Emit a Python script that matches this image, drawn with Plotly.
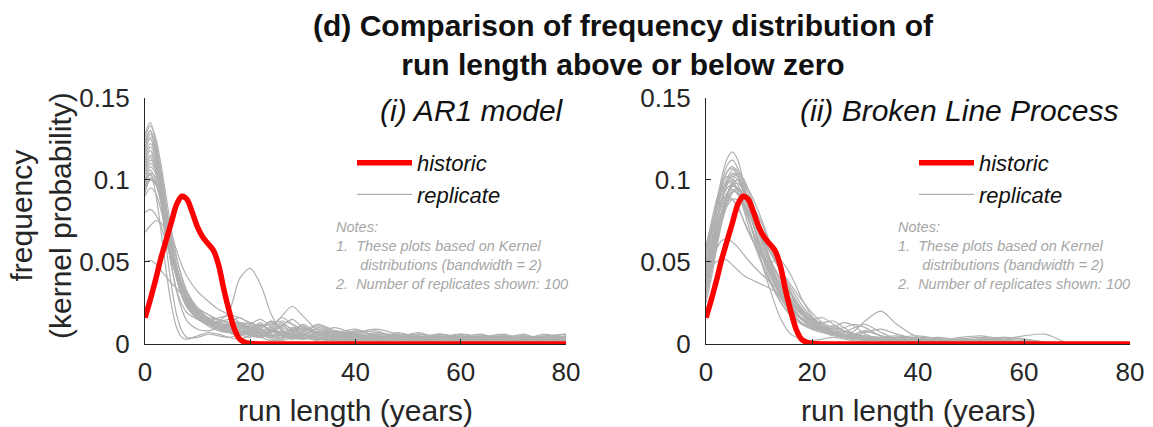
import plotly.graph_objects as go

# ---------------- data ----------------
run_length = [0, 1, 2, 3, 4, 5, 6, 7, 8, 10, 12, 14, 16, 18, 20, 22, 24, 26, 28, 30,
              33, 36, 40, 44, 48, 52, 56, 60, 64, 68, 72, 76, 80]

hist_x = [0, 1, 2, 3, 4, 5, 6, 7, 8, 9, 10, 11, 12, 13, 14, 15, 16, 17, 18, 19, 20,
          22, 25, 30, 40, 50, 60, 70, 80]
hist_y = [0.016, 0.027, 0.039, 0.052, 0.063, 0.074, 0.085, 0.090, 0.088, 0.080, 0.071,
          0.065, 0.061, 0.057, 0.048, 0.033, 0.020, 0.009, 0.003, 0.001, 0.0003,
          0, 0, 0, 0, 0, 0, 0, 0]

ar1_replicates = [
    [0.128,0.135,0.124,0.106,0.085,0.064,0.048,0.036,0.028,0.019,0.013,0.010,0.008,0.011,0.006,0.004,0.009,0.005,0.010,0.004,0.006,0.002,0.007,0.003,0.005,0.002,0.006,0.002,0.004,0.005,0.002,0.004,0.003],
    [0.120,0.128,0.120,0.104,0.084,0.062,0.045,0.033,0.025,0.017,0.014,0.011,0.007,0.005,0.009,0.013,0.006,0.004,0.008,0.011,0.004,0.003,0.006,0.008,0.003,0.005,0.002,0.004,0.006,0.002,0.005,0.003,0.004],
    [0.115,0.122,0.116,0.100,0.080,0.060,0.044,0.034,0.027,0.020,0.016,0.011,0.009,0.006,0.004,0.009,0.014,0.008,0.004,0.003,0.008,0.005,0.003,0.002,0.006,0.004,0.002,0.005,0.002,0.003,0.006,0.002,0.005],
    [0.110,0.118,0.112,0.097,0.078,0.058,0.043,0.033,0.026,0.021,0.018,0.014,0.010,0.007,0.005,0.004,0.008,0.006,0.003,0.005,0.010,0.006,0.003,0.007,0.004,0.002,0.006,0.004,0.002,0.005,0.003,0.004,0.002],
    [0.105,0.112,0.108,0.095,0.077,0.058,0.042,0.031,0.023,0.015,0.012,0.013,0.011,0.008,0.006,0.005,0.009,0.013,0.008,0.004,0.003,0.007,0.005,0.003,0.004,0.007,0.003,0.002,0.004,0.006,0.003,0.002,0.004],
    [0.100,0.108,0.104,0.092,0.075,0.057,0.043,0.033,0.026,0.018,0.013,0.009,0.008,0.012,0.010,0.006,0.004,0.007,0.005,0.003,0.004,0.002,0.008,0.005,0.003,0.002,0.002,0.006,0.004,0.002,0.002,0.004,0.006],
    [0.096,0.104,0.102,0.092,0.077,0.060,0.046,0.036,0.028,0.019,0.014,0.012,0.010,0.007,0.006,0.011,0.008,0.005,0.009,0.006,0.003,0.004,0.005,0.003,0.007,0.004,0.002,0.004,0.002,0.004,0.003,0.006,0.002],
    [0.092,0.100,0.098,0.088,0.073,0.056,0.042,0.032,0.025,0.018,0.016,0.015,0.012,0.009,0.007,0.005,0.004,0.003,0.007,0.012,0.006,0.004,0.003,0.006,0.005,0.003,0.005,0.002,0.003,0.002,0.005,0.003,0.004],
    [0.090,0.095,0.092,0.082,0.068,0.053,0.041,0.032,0.026,0.019,0.014,0.010,0.008,0.006,0.012,0.015,0.010,0.006,0.004,0.005,0.004,0.003,0.002,0.004,0.002,0.006,0.003,0.004,0.002,0.005,0.003,0.002,0.005],
    [0.080,0.082,0.079,0.072,0.062,0.051,0.041,0.033,0.027,0.020,0.015,0.012,0.009,0.007,0.006,0.010,0.014,0.009,0.005,0.004,0.003,0.006,0.009,0.004,0.003,0.002,0.004,0.006,0.003,0.002,0.004,0.002,0.003],
    [0.068,0.072,0.075,0.074,0.068,0.058,0.047,0.037,0.029,0.020,0.015,0.011,0.010,0.008,0.006,0.004,0.007,0.011,0.007,0.004,0.003,0.006,0.003,0.002,0.004,0.003,0.002,0.004,0.005,0.003,0.002,0.004,0.002],
    [0.050,0.051,0.049,0.045,0.041,0.037,0.034,0.030,0.027,0.022,0.018,0.015,0.013,0.011,0.010,0.008,0.007,0.011,0.015,0.010,0.006,0.005,0.008,0.005,0.004,0.003,0.005,0.003,0.004,0.003,0.003,0.005,0.006],
    [0.112,0.118,0.108,0.090,0.068,0.048,0.033,0.024,0.019,0.015,0.013,0.014,0.020,0.040,0.046,0.036,0.018,0.008,0.005,0.004,0.003,0.002,0.003,0.002,0.001,0.002,0.001,0.001,0.002,0.001,0.001,0.002,0.001],
    [0.118,0.126,0.112,0.088,0.060,0.036,0.018,0.008,0.004,0.004,0.006,0.005,0.004,0.006,0.008,0.006,0.003,0.002,0.004,0.006,0.003,0.002,0.001,0.003,0.002,0.001,0.001,0.002,0.001,0.001,0.002,0.001,0.001],
    [0.098,0.106,0.100,0.088,0.072,0.056,0.042,0.032,0.024,0.016,0.012,0.010,0.011,0.013,0.012,0.009,0.010,0.017,0.023,0.017,0.008,0.005,0.007,0.009,0.006,0.004,0.003,0.004,0.003,0.002,0.003,0.005,0.004],
    [0.106,0.114,0.106,0.089,0.068,0.048,0.032,0.021,0.014,0.009,0.008,0.010,0.012,0.010,0.007,0.005,0.008,0.012,0.009,0.005,0.006,0.004,0.002,0.005,0.004,0.002,0.003,0.002,0.001,0.003,0.002,0.004,0.003],
    [0.094,0.100,0.097,0.090,0.080,0.068,0.057,0.048,0.041,0.032,0.026,0.021,0.018,0.016,0.013,0.011,0.012,0.014,0.012,0.009,0.007,0.008,0.006,0.004,0.005,0.003,0.002,0.003,0.002,0.002,0.003,0.002,0.002],
    [0.124,0.130,0.118,0.098,0.076,0.056,0.040,0.030,0.023,0.016,0.012,0.013,0.015,0.012,0.009,0.011,0.013,0.010,0.008,0.010,0.007,0.004,0.005,0.007,0.005,0.003,0.004,0.002,0.003,0.004,0.003,0.002,0.003],
    [0.100,0.104,0.092,0.070,0.045,0.024,0.010,0.004,0.003,0.005,0.007,0.006,0.004,0.003,0.005,0.004,0.002,0.003,0.005,0.004,0.002,0.001,0.002,0.003,0.002,0.001,0.002,0.001,0.002,0.001,0.001,0.002,0.001],
    [0.126,0.133,0.126,0.110,0.090,0.070,0.053,0.040,0.031,0.021,0.015,0.012,0.009,0.007,0.009,0.012,0.008,0.005,0.003,0.006,0.009,0.005,0.003,0.002,0.005,0.003,0.002,0.003,0.005,0.003,0.002,0.003,0.004],
    [0.122,0.130,0.122,0.105,0.083,0.061,0.044,0.032,0.024,0.016,0.012,0.009,0.010,0.013,0.010,0.006,0.005,0.008,0.006,0.003,0.005,0.008,0.005,0.002,0.003,0.004,0.006,0.003,0.002,0.002,0.004,0.003,0.002],
    [0.117,0.125,0.118,0.101,0.079,0.057,0.040,0.029,0.022,0.016,0.014,0.016,0.017,0.013,0.009,0.006,0.004,0.006,0.004,0.007,0.011,0.007,0.004,0.003,0.004,0.006,0.004,0.002,0.003,0.005,0.003,0.002,0.003],
    [0.113,0.120,0.114,0.098,0.079,0.060,0.045,0.034,0.027,0.019,0.013,0.009,0.007,0.006,0.008,0.007,0.011,0.016,0.012,0.006,0.004,0.003,0.004,0.006,0.004,0.002,0.003,0.004,0.002,0.004,0.002,0.003,0.005],
    [0.108,0.115,0.110,0.096,0.078,0.059,0.044,0.033,0.025,0.017,0.012,0.010,0.013,0.016,0.012,0.007,0.006,0.004,0.007,0.009,0.005,0.003,0.004,0.002,0.003,0.005,0.003,0.005,0.003,0.002,0.004,0.003,0.002],
    [0.103,0.110,0.106,0.094,0.078,0.061,0.047,0.037,0.030,0.021,0.015,0.011,0.009,0.010,0.013,0.009,0.005,0.004,0.006,0.005,0.007,0.010,0.006,0.003,0.002,0.004,0.003,0.002,0.005,0.004,0.002,0.004,0.003],
    [0.098,0.103,0.098,0.086,0.070,0.054,0.041,0.031,0.024,0.016,0.011,0.008,0.007,0.009,0.011,0.008,0.005,0.006,0.010,0.008,0.004,0.003,0.005,0.004,0.006,0.003,0.005,0.003,0.002,0.004,0.005,0.003,0.002],
    [0.095,0.101,0.099,0.091,0.079,0.065,0.052,0.041,0.032,0.022,0.016,0.013,0.011,0.010,0.008,0.006,0.009,0.007,0.005,0.008,0.012,0.008,0.004,0.005,0.003,0.004,0.002,0.005,0.003,0.004,0.002,0.003,0.004],
]

blp_replicates = [
    [0.050,0.068,0.086,0.102,0.113,0.117,0.112,0.100,0.086,0.060,0.040,0.026,0.017,0.012,0.009,0.007,0.006,0.005,0.004,0.003,0.002,0.002,0.001,0.001,0.001,0.000,0.000,0.000,0.000,0.000,0.000,0.000,0.000],
    [0.045,0.062,0.080,0.095,0.105,0.108,0.104,0.095,0.084,0.062,0.044,0.030,0.020,0.013,0.010,0.008,0.006,0.004,0.003,0.004,0.003,0.002,0.002,0.001,0.001,0.001,0.000,0.000,0.000,0.000,0.000,0.000,0.000],
    [0.040,0.056,0.073,0.088,0.098,0.102,0.100,0.094,0.085,0.066,0.048,0.034,0.024,0.016,0.011,0.008,0.006,0.005,0.004,0.003,0.002,0.003,0.002,0.001,0.002,0.001,0.000,0.000,0.000,0.000,0.000,0.000,0.000],
    [0.055,0.070,0.084,0.094,0.099,0.098,0.093,0.085,0.076,0.060,0.047,0.036,0.027,0.019,0.013,0.009,0.007,0.006,0.005,0.004,0.003,0.002,0.001,0.002,0.001,0.001,0.001,0.000,0.000,0.000,0.000,0.000,0.000],
    [0.035,0.050,0.066,0.080,0.091,0.097,0.098,0.094,0.087,0.070,0.053,0.038,0.026,0.018,0.012,0.009,0.007,0.008,0.006,0.004,0.002,0.001,0.002,0.003,0.002,0.001,0.002,0.001,0.000,0.000,0.000,0.000,0.000],
    [0.030,0.045,0.060,0.074,0.085,0.092,0.094,0.092,0.087,0.074,0.059,0.045,0.032,0.022,0.015,0.010,0.007,0.005,0.004,0.003,0.002,0.001,0.001,0.002,0.001,0.001,0.000,0.000,0.000,0.000,0.000,0.000,0.000],
    [0.060,0.072,0.082,0.088,0.090,0.088,0.083,0.076,0.069,0.056,0.045,0.036,0.028,0.021,0.016,0.012,0.009,0.010,0.012,0.010,0.005,0.003,0.002,0.001,0.002,0.003,0.002,0.001,0.000,0.000,0.000,0.000,0.000],
    [0.045,0.048,0.050,0.052,0.051,0.048,0.045,0.042,0.040,0.037,0.034,0.030,0.025,0.019,0.014,0.011,0.009,0.007,0.006,0.005,0.004,0.003,0.002,0.002,0.001,0.002,0.001,0.000,0.000,0.000,0.000,0.000,0.000],
    [0.040,0.055,0.070,0.081,0.087,0.088,0.084,0.076,0.068,0.056,0.050,0.051,0.042,0.028,0.017,0.011,0.008,0.006,0.004,0.003,0.002,0.001,0.002,0.001,0.000,0.000,0.000,0.000,0.000,0.000,0.000,0.000,0.000],
    [0.038,0.052,0.067,0.080,0.089,0.093,0.092,0.087,0.080,0.063,0.046,0.032,0.022,0.015,0.010,0.008,0.006,0.005,0.008,0.014,0.020,0.012,0.004,0.002,0.001,0.001,0.000,0.000,0.000,0.000,0.000,0.000,0.000],
    [0.042,0.058,0.074,0.088,0.097,0.100,0.097,0.088,0.077,0.055,0.038,0.026,0.018,0.013,0.010,0.008,0.006,0.004,0.003,0.002,0.003,0.004,0.003,0.002,0.004,0.005,0.003,0.005,0.006,0.001,0.000,0.000,0.000],
    [0.028,0.044,0.062,0.078,0.090,0.096,0.095,0.088,0.078,0.055,0.034,0.016,0.006,0.003,0.002,0.003,0.004,0.003,0.002,0.001,0.001,0.002,0.001,0.000,0.000,0.000,0.000,0.000,0.000,0.000,0.000,0.000,0.000],
    [0.052,0.066,0.080,0.092,0.101,0.106,0.106,0.100,0.091,0.070,0.050,0.034,0.023,0.016,0.012,0.010,0.011,0.008,0.005,0.003,0.002,0.001,0.003,0.004,0.002,0.001,0.001,0.002,0.001,0.000,0.000,0.000,0.000],
    [0.033,0.047,0.062,0.076,0.087,0.093,0.095,0.093,0.089,0.077,0.062,0.046,0.031,0.020,0.013,0.009,0.010,0.013,0.011,0.006,0.003,0.002,0.001,0.002,0.003,0.002,0.001,0.000,0.000,0.000,0.000,0.000,0.000],
    [0.048,0.062,0.076,0.088,0.095,0.097,0.093,0.085,0.076,0.058,0.043,0.031,0.022,0.016,0.015,0.016,0.012,0.008,0.005,0.003,0.004,0.005,0.003,0.002,0.003,0.002,0.004,0.003,0.001,0.000,0.000,0.000,0.000],
    [0.036,0.052,0.068,0.082,0.092,0.098,0.100,0.098,0.094,0.080,0.062,0.044,0.030,0.020,0.014,0.010,0.007,0.005,0.004,0.003,0.002,0.002,0.001,0.001,0.000,0.000,0.000,0.000,0.000,0.000,0.000,0.000,0.000],
    [0.025,0.040,0.058,0.075,0.090,0.100,0.104,0.101,0.094,0.073,0.052,0.035,0.023,0.015,0.011,0.009,0.006,0.004,0.006,0.008,0.005,0.002,0.001,0.000,0.000,0.000,0.000,0.000,0.000,0.000,0.000,0.000,0.000],
    [0.040,0.050,0.058,0.063,0.064,0.062,0.059,0.055,0.051,0.044,0.038,0.032,0.025,0.019,0.014,0.010,0.007,0.005,0.004,0.003,0.002,0.001,0.001,0.000,0.000,0.000,0.000,0.000,0.000,0.000,0.000,0.000,0.000],
    [0.055,0.070,0.085,0.097,0.105,0.107,0.102,0.093,0.082,0.062,0.045,0.032,0.022,0.016,0.012,0.009,0.007,0.005,0.006,0.008,0.005,0.003,0.002,0.003,0.002,0.001,0.002,0.001,0.000,0.000,0.000,0.000,0.000],
    [0.038,0.055,0.072,0.087,0.098,0.103,0.102,0.096,0.087,0.068,0.050,0.036,0.025,0.018,0.014,0.013,0.014,0.010,0.006,0.004,0.003,0.002,0.003,0.002,0.001,0.002,0.003,0.002,0.001,0.000,0.000,0.000,0.000],
    [0.032,0.048,0.065,0.080,0.091,0.096,0.095,0.090,0.083,0.067,0.052,0.040,0.030,0.021,0.014,0.009,0.006,0.004,0.005,0.007,0.009,0.006,0.003,0.002,0.003,0.004,0.002,0.001,0.000,0.000,0.000,0.000,0.000],
    [0.046,0.060,0.074,0.085,0.092,0.094,0.091,0.086,0.080,0.068,0.056,0.045,0.034,0.024,0.016,0.011,0.008,0.006,0.004,0.003,0.002,0.003,0.004,0.003,0.002,0.001,0.000,0.000,0.000,0.000,0.000,0.000,0.000],
    [0.058,0.074,0.088,0.098,0.102,0.100,0.093,0.083,0.072,0.053,0.039,0.028,0.020,0.015,0.011,0.008,0.006,0.007,0.010,0.012,0.007,0.003,0.002,0.001,0.002,0.003,0.004,0.003,0.001,0.000,0.000,0.000,0.000],
    [0.043,0.059,0.075,0.089,0.099,0.104,0.102,0.094,0.083,0.061,0.043,0.030,0.021,0.015,0.011,0.008,0.006,0.005,0.004,0.003,0.002,0.001,0.001,0.000,0.001,0.002,0.001,0.000,0.000,0.000,0.000,0.000,0.000],
    [0.036,0.050,0.064,0.076,0.084,0.088,0.088,0.085,0.080,0.069,0.057,0.046,0.036,0.027,0.019,0.013,0.010,0.008,0.006,0.004,0.003,0.004,0.005,0.003,0.002,0.003,0.002,0.001,0.000,0.000,0.000,0.000,0.000],
    [0.050,0.067,0.084,0.099,0.109,0.112,0.107,0.097,0.085,0.062,0.043,0.029,0.019,0.013,0.009,0.007,0.005,0.004,0.003,0.002,0.002,0.001,0.002,0.002,0.001,0.000,0.000,0.000,0.000,0.000,0.000,0.000,0.000],
]

x_ticks = [0, 20, 40, 60, 80]
y_ticks = [0, 0.05, 0.1, 0.15]
y_tick_text = ["0", "0.05", "0.1", "0.15"]

panel_titles = ["(i) AR1 model", "(ii) Broken Line Process"]
notes_text = ("Notes:<br>1.  These plots based on Kernel<br>"
              "\u00a0\u00a0\u00a0\u00a0\u00a0\u00a0distributions (bandwidth = 2)<br>"
              "2.  Number of replicates shown: 100")

# ---------------- style ----------------
FONT = "Liberation Sans, Arial, sans-serif"
GREY = "#b0b0b0"
RED = "#ff0000"
AX = "#262626"
W, H = 1153, 427

fig = go.Figure()

panels = [
    (ar1_replicates, "x", "y", "legend"),
    (blp_replicates, "x2", "y2", "legend2"),
]
for reps, xa, ya, lg in panels:
    for i, r in enumerate(reps):
        fig.add_trace(go.Scatter(
            x=run_length, y=r, mode="lines", xaxis=xa, yaxis=ya,
            line=dict(color=GREY, width=1.2, shape="spline", smoothing=0.8),
            name="replicate", showlegend=(i == 0), legend=lg, legendrank=2,
            hoverinfo="skip"))
    fig.add_trace(go.Scatter(
        x=hist_x, y=hist_y, mode="lines", xaxis=xa, yaxis=ya,
        line=dict(color=RED, width=5.5, shape="spline", smoothing=0.8),
        name="historic", showlegend=True, legend=lg, legendrank=1,
        hoverinfo="skip"))

axis_common = dict(showline=True, linecolor=AX, linewidth=1, ticks="inside",
                   ticklen=5, tickcolor=AX, showgrid=False, zeroline=False,
                   automargin=False,
                   tickfont=dict(family=FONT, size=26, color=AX))

x_dom = [[145 / W, 566 / W], [706 / W, 1130 / W]]
y_dom = [1 - 344 / H, 1 - 97.7 / H]

legend_common = dict(xanchor="left", yanchor="top", bgcolor="rgba(0,0,0,0)",
                     traceorder="normal", tracegroupgap=0, itemwidth=55,
                     font=dict(family=FONT, size=22, color="#111", style="italic"))

fig.update_layout(
    width=W, height=H, margin=dict(l=0, r=0, t=0, b=0, autoexpand=False),
    paper_bgcolor="white", plot_bgcolor="white",
    font=dict(family=FONT, color=AX),
    xaxis=dict(domain=x_dom[0], range=[0, 80], tickvals=x_ticks, anchor="y",
               ticklabelstandoff=5, **axis_common),
    yaxis=dict(domain=y_dom, range=[0, 0.15], tickvals=y_ticks, ticktext=y_tick_text,
               anchor="x", ticklabelstandoff=9, **axis_common),
    xaxis2=dict(domain=x_dom[1], range=[0, 80], tickvals=x_ticks, anchor="y2",
                ticklabelstandoff=5, **axis_common),
    yaxis2=dict(domain=y_dom, range=[0, 0.15], tickvals=y_ticks, ticktext=y_tick_text,
                anchor="x2", ticklabelstandoff=9, **axis_common),
    legend=dict(x=352 / W, y=1 - 142 / H, **legend_common),
    legend2=dict(x=914 / W, y=1 - 142 / H, **legend_common),
    showlegend=True,
)

ann = []
ann.append(dict(text="<b>(d) Comparison of frequency distribution of<br>run length above or below zero</b>",
                x=623 / W, y=1 - 45 / H, xref="paper", yref="paper", showarrow=False,
                xanchor="center", yanchor="middle",
                font=dict(family=FONT, size=30, color="#111")))
ann.append(dict(text=panel_titles[0], x=566 / W, y=1 - 110 / H, xref="paper", yref="paper",
                showarrow=False, xanchor="right", yanchor="middle",
                font=dict(family=FONT, size=30, color="#111", style="italic")))
ann.append(dict(text=panel_titles[1], x=1120 / W, y=1 - 110 / H, xref="paper", yref="paper",
                showarrow=False, xanchor="right", yanchor="middle",
                font=dict(family=FONT, size=30, color="#111", style="italic")))
for nx in [333 / W, 895 / W]:
    ann.append(dict(text=notes_text, x=nx, y=1 - 217 / H, xref="paper", yref="paper",
                    showarrow=False, xanchor="left", yanchor="top", align="left",
                    font=dict(family=FONT, size=14.5, color="#a6a6a6", style="italic")))
for cx in [(145 + 566) / 2 / W, (706 + 1130) / 2 / W]:
    ann.append(dict(text="run length (years)", x=cx, y=1 - 410 / H, xref="paper", yref="paper",
                    showarrow=False, xanchor="center", yanchor="middle",
                    font=dict(family=FONT, size=30, color=AX)))
ann.append(dict(text="frequency<br>(kernel probability)", x=41 / W, y=1 - 216 / H,
                xref="paper", yref="paper", showarrow=False, textangle=-90,
                xanchor="center", yanchor="middle",
                font=dict(family=FONT, size=30, color=AX)))
fig.update_layout(annotations=ann)

fig.write_html("out.html")
